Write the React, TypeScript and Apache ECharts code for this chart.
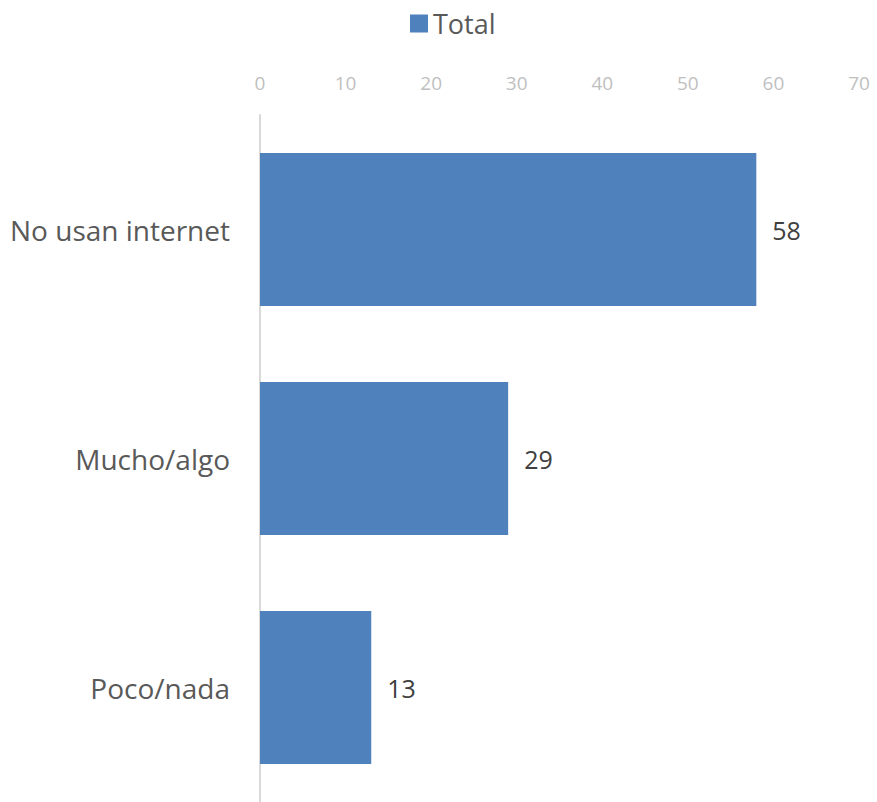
import React, { useEffect, useRef } from "react";
import * as echarts from "echarts";

const categories = ["No usan internet", "Mucho/algo", "Poco/nada"];
const totals = [58, 29, 13];
const xTicks = [0, 70, 10];

export default function App() {
  const ref = useRef<HTMLDivElement>(null);
  useEffect(() => {
    const chart = echarts.init(ref.current!, undefined, { renderer: "svg" });
    const font = "Open Sans, Liberation Sans, sans-serif";
    chart.setOption({
      animation: false,
      legend: {
        data: ["Total"],
        top: 5,
        left: 405,
        icon: "rect",
        itemWidth: 18,
        itemHeight: 18,
        itemGap: 6,
        textStyle: { fontSize: 27, color: "#595959", fontFamily: font },
      },
      grid: { left: 260, right: 18, top: 115, bottom: -6, containLabel: false },
      xAxis: {
        type: "value",
        position: "top",
        min: xTicks[0],
        max: xTicks[1],
        interval: xTicks[2],
        axisLine: { show: false },
        axisTick: { show: false },
        splitLine: { show: false },
        axisLabel: { color: "#BFBFBF", fontSize: 19, fontFamily: font, margin: 23 },
      },
      yAxis: {
        type: "category",
        data: categories,
        inverse: true,
        axisLine: { show: true, lineStyle: { color: "#D9D9D9", width: 2 } },
        axisTick: { show: false },
        axisLabel: { color: "#595959", fontSize: 28, fontFamily: font, margin: 30 },
      },
      series: [
        {
          name: "Total",
          type: "bar",
          data: totals,
          barWidth: 153,
          itemStyle: { color: "#4F81BD" },
          label: {
            show: true,
            position: "right",
            distance: 16,
            color: "#404040",
            fontSize: 25,
            fontFamily: font,
          },
        },
      ],
    });
    return () => chart.dispose();
  }, []);
  return (
    <div
      ref={ref}
      style={{ position: "fixed", left: 0, top: 0, width: 877, height: 802, background: "#fff" }}
    />
  );
}
